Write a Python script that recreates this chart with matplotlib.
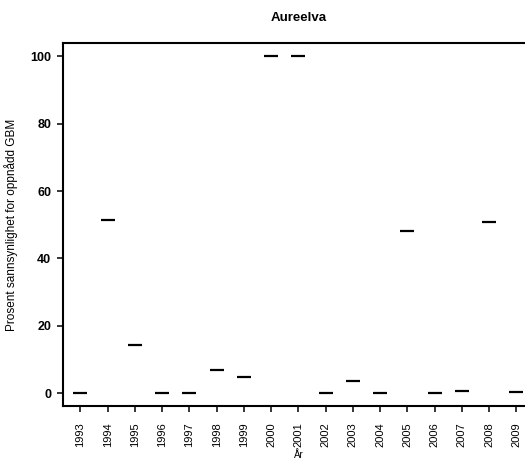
import matplotlib
matplotlib.use('Agg')
import matplotlib.pyplot as plt

# data
years = [1993, 1994, 1995, 1996, 1997, 1998, 1999, 2000, 2001,
         2002, 2003, 2004, 2005, 2006, 2007, 2008, 2009]
prob = [0.0, 51.5, 14.2, 0.0, 0.0, 6.8, 4.7, 100.0, 100.0,
        0.0, 3.5, 0.0, 48.2, 0.0, 0.6, 50.9, 0.3]

plt.rcParams['font.family'] = ['Liberation Sans', 'DejaVu Sans']

fig = plt.figure(figsize=(5.25, 4.59), dpi=100)
ax = fig.add_axes([0.12, 0.1144, 0.8968, 0.7919])

ax.plot(years, prob, linestyle='none', marker='_', markersize=9.5,
        markeredgewidth=1.6, color='black')

ax.set_xlim(1992.36, 2009.64)
ax.set_ylim(-4, 104)
ax.set_xticks(years)
ax.set_xticklabels([str(y) for y in years], rotation=90, fontsize=8)
ax.set_yticks([0, 20, 40, 60, 80, 100])
ax.set_yticklabels(['0', '20', '40', '60', '80', '100'], fontsize=9, fontweight='bold')

for s in ['left', 'bottom', 'top']:
    ax.spines[s].set_linewidth(1.5)
ax.spines['right'].set_visible(False)
ax.tick_params(direction='out', length=4.5, width=1.1, pad=4)
ax.tick_params(axis='x', pad=7)

ax.set_title('Aureelva', fontsize=9.5, fontweight='bold', pad=16)
ax.set_ylabel('Prosent sannsynlighet for oppnådd GBM', fontsize=8.5, labelpad=9)
ax.set_xlabel('År', fontsize=7, labelpad=2)

fig.savefig('out.png', dpi=100)
